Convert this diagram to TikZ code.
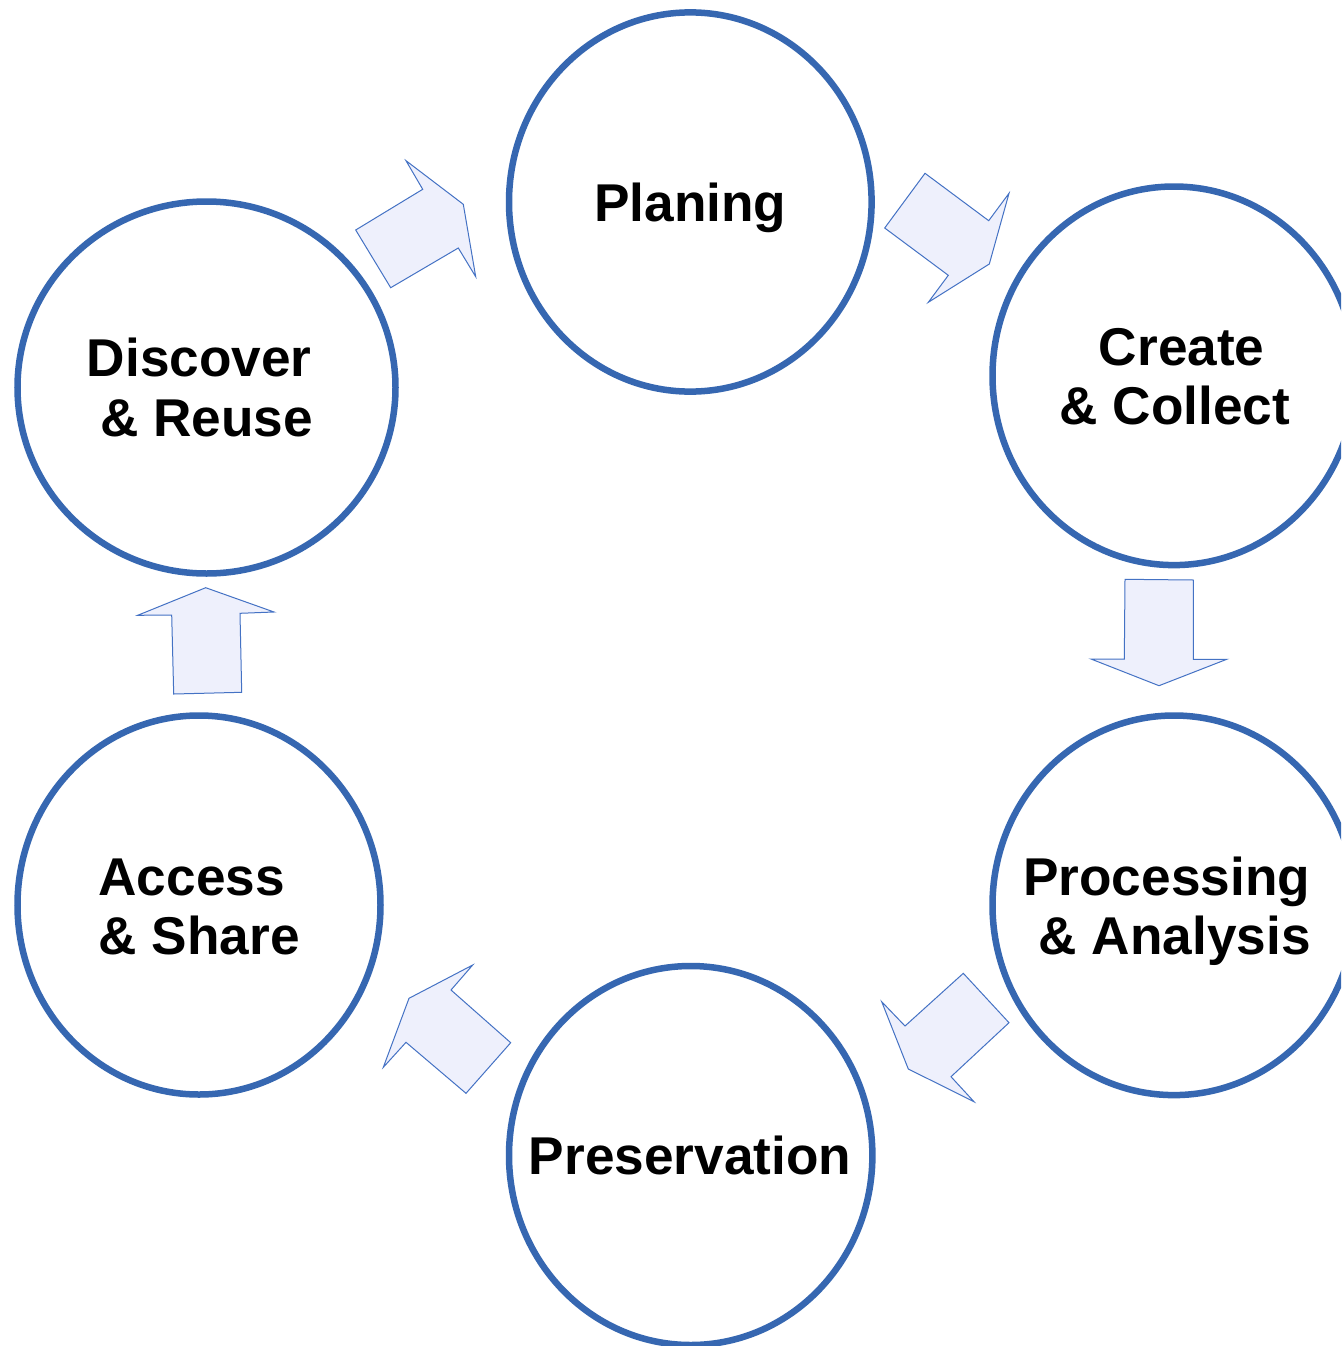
\documentclass[tikz,border=0pt]{standalone}
\usepackage{fontspec}
\setmainfont{Liberation Sans}
\usetikzlibrary{shapes.geometric}
\definecolor{ringblue}{RGB}{54,103,177}
\definecolor{arrowline}{RGB}{68,114,196}
\definecolor{arrowfill}{RGB}{238,240,252}
\tikzset{
  ring/.style={ellipse, draw=ringblue, line width=6.5pt, fill=white, inner sep=0pt, outer sep=0pt},
  lbl/.style={font=\bfseries\fontsize{53.2}{60}\selectfont, inner sep=0pt, outer sep=0pt, anchor=base},
  blockarrow/.style={draw=arrowline, fill=arrowfill, line width=1pt, line join=miter}
}
\begin{document}
\begin{tikzpicture}[x=1pt,y=-1pt]
\useasboundingbox (0,0) rectangle (1341,1346);
\clip (0,0) rectangle (1341,1346);
\fill[white] (0,0) rectangle (1341,1346);

% circles
\node[ring, minimum width=362.6pt, minimum height=379.2pt] (plan) at (690.3,202) {};
\node[ring, minimum width=363pt, minimum height=378.6pt] (create) at (1174,375.8) {};
\node[ring, minimum width=363pt, minimum height=379.6pt] (proc) at (1174,905.3) {};
\node[ring, minimum width=363.4pt, minimum height=379pt] (pres) at (690.7,1155.5) {};
\node[ring, minimum width=363pt, minimum height=379pt] (access) at (199,905) {};
\node[ring, minimum width=378pt, minimum height=372pt] (disc) at (206.5,387.5) {};

% labels
\node[lbl] (plan-t) at (690.2,221) {Planing};
\node[lbl] (create-t1) at (1181.7,365.7) {Create};
\node[lbl] (create-t2) at (1175,424.3) {\& Collect};
\node[lbl] (proc-t1) at (1166.7,895) {Processing};
\node[lbl] (proc-t2) at (1174.7,954.3) {\& Analysis};
\node[lbl] (pres-t) at (690,1174) {Preservation};
\node[lbl] (access-t1) at (191.7,895) {Access};
\node[lbl] (access-t2) at (199.2,954.3) {\& Share};
\node[lbl] (disc-t1) at (199.3,376.7) {Discover};
\node[lbl] (disc-t2) at (206.7,436.7) {\& Reuse};

% block arrows
\draw[blockarrow] (355.7,230) -- (422.7,189.3) -- (406,160.7) -- (463.3,204.3) -- (475.7,276.7) -- (458.3,248) -- (390.7,287.7) -- cycle;
\draw[blockarrow] (925,173.3) -- (988.7,220.7) -- (1009,193.3) -- (989.3,264) -- (928.3,302.3) -- (948.3,275.3) -- (884.7,228) -- cycle;
\draw[blockarrow] (1125,579.3) -- (1193.3,580) -- (1193.3,659.3) -- (1226.7,659.3) -- (1159,685.7) -- (1091,659) -- (1124.3,659) -- cycle;
\draw[blockarrow] (963.3,973.3) -- (1009,1022.7) -- (951,1076.7) -- (974,1101.7) -- (908.3,1069) -- (881.7,1001.7) -- (905,1026) -- cycle;
\draw[blockarrow] (472.7,965) -- (451,990) -- (510.7,1042.7) -- (466,1093.3) -- (406,1042.3) -- (383.3,1067.3) -- (409,998.3) -- cycle;
\draw[blockarrow] (205.7,587.7) -- (274,612) -- (240,613.3) -- (241.7,692.3) -- (173.7,694) -- (171.7,615) -- (137.7,615.3) -- cycle;
\end{tikzpicture}
\end{document}
